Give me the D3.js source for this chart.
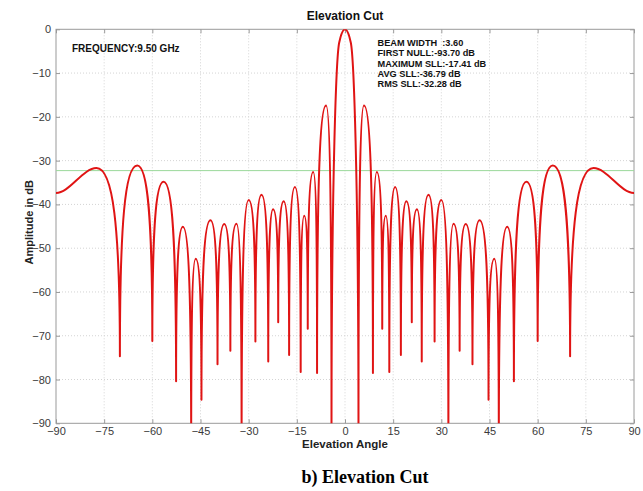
<!DOCTYPE html>
<html>
<head>
<meta charset="utf-8">
<script src="https://cdn.jsdelivr.net/npm/d3@7"></script>
<style>
  html, body { margin: 0; padding: 0; background: #fff; }
  svg { display: block; }
  text { font-family: Arial, "Liberation Sans", sans-serif; }
</style>
</head>
<body>
<svg id="chart" width="643" height="491"></svg>
<script>
// Elevation-cut radiation pattern: lobe peaks and nulls (angle in degrees, level in dB)
const patternAngle = [
  -90, -77.4, -70.1, -64.7, -60.0, -56.5, -52.6, -50.5, -47.9, -46.5,
  -44.7, -41.9, -39.7, -37.6, -35.7, -33.8, -32.2, -30.0, -27.9, -26.0,
  -23.9, -22.4, -20.8, -19.1, -17.4, -15.6, -13.8, -12.7, -11.6, -9.9,
  -8.7, -5.9, -4.2, -1.8, 0,
  1.8, 4.2, 5.9, 8.7, 9.9, 11.6, 12.7, 13.8, 15.6, 17.4,
  19.1, 20.8, 22.4, 23.9, 26.0, 27.9, 30.0, 32.2, 33.8, 35.7,
  37.6, 39.7, 41.9, 44.7, 46.5, 47.9, 50.5, 52.6, 56.5, 60.0,
  64.7, 70.1, 77.4, 90
];
const patternDb = [
  -37.4, -31.7, -74.7, -31.1, -71.2, -34.8, -80.4, -45.1, -96.0, -52.4,
  -84.6, -43.6, -76.5, -44.5, -73.4, -44.4, -96.0, -39.0, -71.3, -37.8,
  -75.9, -41.1, -66.9, -39.3, -74.4, -36.0, -78.3, -42.6, -68.4, -32.6,
  -78.5, -17.41, -93.7, -3.0, 0,
  -3.0, -93.7, -17.41, -78.5, -32.6, -68.4, -42.6, -78.3, -36.0, -74.4,
  -39.3, -66.9, -41.1, -75.9, -37.8, -71.3, -39.0, -96.0, -44.4, -73.4,
  -44.5, -76.5, -43.6, -84.6, -52.4, -96.0, -45.1, -80.4, -34.8, -71.2,
  -31.1, -74.7, -31.7, -37.4
];

// RMS side-lobe level reference line
const rmsSllDb = -32.28;

const xTickValues = [-90, -75, -60, -45, -30, -15, 0, 15, 30, 45, 60, 75, 90];
const yTickValues = [0, -10, -20, -30, -40, -50, -60, -70, -80, -90];

const chartTitle = "Elevation Cut";
const xAxisTitle = "Elevation Angle";
const yAxisTitle = "Amplitude in dB";
const figureCaption = "b) Elevation Cut";
const frequencyNote = "FREQUENCY:9.50 GHz";
const summaryLines = [
  "BEAM WIDTH  :3.60",
  "FIRST NULL:-93.70 dB",
  "MAXIMUM SLL:-17.41 dB",
  "AVG SLL:-36.79 dB",
  "RMS SLL:-32.28 dB"
];

const svg = d3.select("#chart");
const plot = { left: 56, top: 29.3, right: 634, bottom: 423.3 };

const x = d3.scaleLinear().domain([-90, 90]).range([plot.left, plot.right]);
const y = d3.scaleLinear().domain([-90, 0]).range([plot.bottom, plot.top]);

svg.append("rect").attr("width", 643).attr("height", 491).attr("fill", "#fff");

svg.append("defs").append("clipPath").attr("id", "plotClip")
  .append("rect")
  .attr("x", plot.left).attr("y", plot.top)
  .attr("width", plot.right - plot.left).attr("height", plot.bottom - plot.top);

// Dotted grid
const grid = svg.append("g");
grid.selectAll("line.gx").data(xTickValues.slice(1, -1)).join("line")
  .attr("x1", d => x(d)).attr("x2", d => x(d))
  .attr("y1", plot.top).attr("y2", plot.bottom)
  .attr("stroke", "#d4d4d4").attr("stroke-width", 1).attr("stroke-dasharray", "1,2");
grid.selectAll("line.gy").data(yTickValues.slice(1, -1)).join("line")
  .attr("x1", plot.left).attr("x2", plot.right)
  .attr("y1", d => y(d)).attr("y2", d => y(d))
  .attr("stroke", "#d4d4d4").attr("stroke-width", 1).attr("stroke-dasharray", "1,2");

// Axes with inward ticks on all four sides
const axisColor = "#9a9a9a";
function styleAxis(g) {
  g.select(".domain").remove();
  g.selectAll(".tick line").attr("stroke", axisColor);
  g.selectAll(".tick text")
    .attr("fill", "#3a3a3a")
    .style("font-size", "11px")
    .style("font-family", "Arial, 'Liberation Sans', sans-serif");
}
svg.append("g").attr("transform", `translate(0,${plot.bottom})`)
  .call(d3.axisBottom(x).tickValues(xTickValues).tickSizeInner(-4).tickSizeOuter(0).tickPadding(4))
  .call(styleAxis);
svg.append("g").attr("transform", `translate(${plot.left},0)`)
  .call(d3.axisLeft(y).tickValues(yTickValues).tickSizeInner(-4).tickSizeOuter(0).tickPadding(5))
  .call(styleAxis);
svg.append("g").attr("transform", `translate(0,${plot.top})`)
  .call(d3.axisTop(x).tickValues(xTickValues).tickSizeInner(-4).tickSizeOuter(0).tickFormat(""))
  .call(styleAxis);
svg.append("g").attr("transform", `translate(${plot.right},0)`)
  .call(d3.axisRight(y).tickValues(yTickValues).tickSizeInner(-4).tickSizeOuter(0).tickFormat(""))
  .call(styleAxis);

svg.append("rect")
  .attr("x", plot.left).attr("y", plot.top)
  .attr("width", plot.right - plot.left).attr("height", plot.bottom - plot.top)
  .attr("fill", "none").attr("stroke", axisColor).attr("stroke-width", 1);

// RMS SLL line
svg.append("line")
  .attr("x1", x(-90)).attr("x2", x(90))
  .attr("y1", y(rmsSllDb)).attr("y2", y(rmsSllDb))
  .attr("stroke", "#9ad89a").attr("stroke-width", 1);

// Pattern curve: rounded lobe tops, steep cusps at the nulls
const pts = patternAngle.map((a, i) => [x(a), y(patternDb[i])]);
const n = pts.length;
const kinds = pts.map((p, i) => {
  if (i === 0 || i === n - 1) return "edge";
  const yp = pts[i - 1][1], yc = p[1], yn = pts[i + 1][1];
  if (yc > yp && yc > yn) return "min";
  if (yc < yp && yc < yn) return "max";
  return "mid";
});
function monotoneSlope(i) {
  const [x0, y0] = pts[i - 1], [x1, y1] = pts[i], [x2, y2] = pts[i + 1];
  const h0 = x1 - x0, h1 = x2 - x1;
  const s0 = (y1 - y0) / h0, s1 = (y2 - y1) / h1;
  const p = (s0 * h1 + s1 * h0) / (h0 + h1);
  return (Math.sign(s0) + Math.sign(s1)) * Math.min(Math.abs(s0), Math.abs(s1), 0.5 * Math.abs(p));
}
function control(i, j) {
  const [xi, yi] = pts[i], [xj, yj] = pts[j];
  const h = xj - xi;
  const k = kinds[i];
  if (k === "min") return [xi, yi + 0.7 * (yj - yi)];
  if (k === "max") return [xi + (kinds[j] === "min" ? 0.7 : 1 / 3) * h, yi];
  if (k === "edge") return [xi + h / 3, yi];
  const m = monotoneSlope(i);
  return [xi + h / 3, yi + m * h / 3];
}
const curve = d3.path();
curve.moveTo(pts[0][0], pts[0][1]);
for (let i = 0; i < n - 1; i++) {
  const c1 = control(i, i + 1), c2 = control(i + 1, i);
  curve.bezierCurveTo(c1[0], c1[1], c2[0], c2[1], pts[i + 1][0], pts[i + 1][1]);
}
svg.append("path")
  .attr("clip-path", "url(#plotClip)")
  .attr("d", curve.toString())
  .attr("fill", "none")
  .attr("stroke", "#e01414")
  .attr("stroke-width", 2)
  .attr("stroke-linejoin", "round");

// Titles and notes
svg.append("text")
  .attr("x", (plot.left + plot.right) / 2).attr("y", 20)
  .attr("text-anchor", "middle")
  .style("font-size", "12px").style("font-weight", "bold").attr("fill", "#111")
  .text(chartTitle);

svg.append("text")
  .attr("x", (plot.left + plot.right) / 2).attr("y", 448)
  .attr("text-anchor", "middle")
  .style("font-size", "11.5px").style("font-weight", "bold").attr("fill", "#222")
  .text(xAxisTitle);

svg.append("text")
  .attr("transform", `translate(32.5,${(plot.top + plot.bottom) / 2 - 4}) rotate(-90)`)
  .attr("text-anchor", "middle")
  .style("font-size", "11px").style("font-weight", "bold").attr("fill", "#222")
  .text(yAxisTitle);

svg.append("text")
  .attr("x", 72).attr("y", 52)
  .style("font-size", "10px").style("font-weight", "bold").attr("fill", "#111")
  .text(frequencyNote);

svg.append("g").selectAll("text").data(summaryLines).join("text")
  .attr("x", 377.5).attr("y", (d, i) => 46 + i * 10.3)
  .style("font-size", "9.2px").style("font-weight", "bold").style("white-space", "pre")
  .attr("fill", "#111")
  .text(d => d);

svg.append("text")
  .attr("x", 365).attr("y", 483)
  .attr("text-anchor", "middle")
  .style("font-family", "'Times New Roman', 'Liberation Serif', serif")
  .style("font-size", "18px").style("font-weight", "bold").attr("fill", "#000")
  .text(figureCaption);
</script>
</body>
</html>
